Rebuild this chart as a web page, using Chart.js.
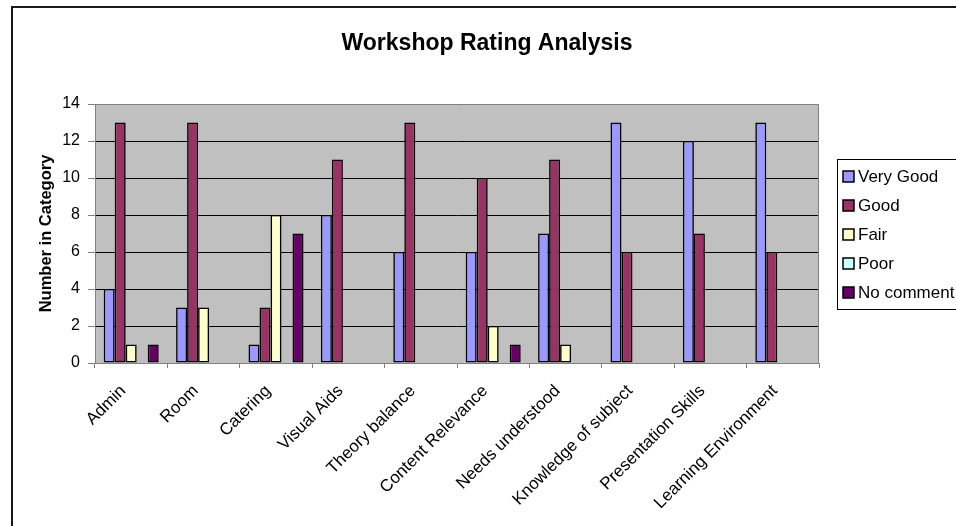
<!DOCTYPE html>
<html>
<head>
<meta charset="utf-8">
<script src="https://cdn.jsdelivr.net/npm/chart.js@4.4.1/dist/chart.umd.min.js"></script>
<style>
  html, body { margin: 0; padding: 0; background: #ffffff; }
  #wrap { width: 956px; height: 526px; position: relative; }
</style>
</head>
<body>
<div id="wrap"><canvas id="chart" width="956" height="526"></canvas></div>
<script>
// Workshop feedback counts per rating, one array per rating level
const categories = [
  'Admin', 'Room', 'Catering', 'Visual Aids', 'Theory balance',
  'Content Relevance', 'Needs understood', 'Knowledge of subject',
  'Presentation Skills', 'Learning Environment'
];
const veryGood  = [4, 3, 1, 8, 6, 6, 7, 13, 12, 13];
const good      = [13, 13, 3, 11, 13, 10, 11, 6, 7, 6];
const fair      = [1, 3, 8, 0, 0, 2, 1, 0, 0, 0];
const poor      = [0, 0, 0, 0, 0, 0, 0, 0, 0, 0];
const noComment = [1, 0, 7, 0, 0, 1, 0, 0, 0, 0];
const seriesNames = ['Very Good', 'Good', 'Fair', 'Poor', 'No comment'];
const yTicks = [0, 2, 4, 6, 8, 10, 12, 14];

const chartTitle = 'Workshop Rating Analysis';
const yTitle = 'Number in Category';

const colors = ['#9999FF', '#993366', '#FFFFCC', '#CCFFFF', '#660066'];
const FONT = "'Liberation Sans', Arial, Helvetica, sans-serif";

const seriesValues = [veryGood, good, fair, poor, noComment];
const datasets = seriesNames.map((name, i) => ({
  label: name,
  data: seriesValues[i],
  backgroundColor: colors[i],
  borderColor: '#000000',
  borderWidth: (ctx) => (ctx.raw === 0 ? 0 : 1.6),
  borderSkipped: false,
  categoryPercentage: 0.76,
  barPercentage: 1.0
}));

// Plot background, plot frame, outer frame, title and legend box
const decorations = {
  id: 'decorations',
  beforeDraw(chart) {
    const { ctx, chartArea: a } = chart;
    ctx.save();
    ctx.fillStyle = '#C0C0C0';
    ctx.fillRect(a.left, a.top, a.right - a.left, a.bottom - a.top);
    ctx.restore();
  },
  afterDraw(chart) {
    const { ctx, chartArea: a } = chart;
    ctx.save();
    // plot frame (top / right)
    ctx.strokeStyle = '#808080';
    ctx.lineWidth = 1;
    ctx.beginPath();
    ctx.moveTo(a.left, a.top + 0.5);
    ctx.lineTo(a.right - 0.5, a.top + 0.5);
    ctx.lineTo(a.right - 0.5, a.bottom);
    ctx.stroke();

    // outer chart frame
    ctx.strokeStyle = '#1a1a1a';
    ctx.lineWidth = 2;
    ctx.beginPath();
    ctx.moveTo(12, 528);
    ctx.lineTo(12, 7);
    ctx.lineTo(960, 7);
    ctx.stroke();

    // title
    ctx.fillStyle = '#000000';
    ctx.font = 'bold 23px ' + FONT;
    ctx.textAlign = 'center';
    ctx.textBaseline = 'alphabetic';
    ctx.fillText(chartTitle, 487, 50);

    // legend
    const lx = 837, ly = 159, lw = 130, lh = 150;
    ctx.fillStyle = '#ffffff';
    ctx.fillRect(lx, ly, lw, lh);
    ctx.strokeStyle = '#000000';
    ctx.lineWidth = 1;
    ctx.strokeRect(lx + 0.5, ly + 0.5, lw, lh);
    ctx.font = '17px ' + FONT;
    ctx.textAlign = 'left';
    ctx.textBaseline = 'middle';
    chart.data.datasets.forEach((ds, i) => {
      const cy = 176 + i * 29;
      ctx.fillStyle = ds.backgroundColor;
      ctx.fillRect(843, cy - 5, 11, 11);
      ctx.strokeStyle = '#000000';
      ctx.lineWidth = 1.5;
      ctx.strokeRect(843, cy - 5, 11, 11);
      ctx.fillStyle = '#000000';
      ctx.fillText(ds.label, 858, cy + 1);
    });
    ctx.restore();
  }
};

new Chart(document.getElementById('chart'), {
  type: 'bar',
  data: { labels: categories, datasets },
  plugins: [decorations],
  options: {
    responsive: false,
    animation: false,
    events: [],
    layout: { padding: { left: 33, top: 104, right: 137, bottom: 0 } },
    plugins: {
      legend: { display: false },
      title: { display: false },
      tooltip: { enabled: false }
    },
    scales: {
      x: {
        offset: true,
        grid: {
          offset: true,
          drawOnChartArea: false,
          drawTicks: true,
          tickLength: 5,
          tickColor: '#808080',
          tickWidth: 1
        },
        border: { display: true, color: '#808080', width: 1 },
        ticks: {
          color: '#000000',
          font: { family: FONT, size: 17 },
          minRotation: 45,
          maxRotation: 45,
          autoSkip: false,
          padding: 13,
          labelOffset: -8
        },
        afterFit(scale) { scale.height = 526 - 363; }
      },
      y: {
        min: 0,
        max: 14,
        afterBuildTicks(scale) { scale.ticks = yTicks.map(v => ({ value: v })); },
        grid: {
          color: (ctx) => (ctx.tick && (ctx.tick.value === 0 || ctx.tick.value === 14)) ? 'rgba(0,0,0,0)' : '#000000',
          tickColor: '#808080',
          lineWidth: 1,
          drawTicks: true,
          tickLength: 7
        },
        border: { display: true, color: '#808080', width: 1 },
        ticks: {
          color: '#000000',
          font: { family: FONT, size: 16 },
          padding: 8
        },
        title: {
          display: true,
          text: yTitle,
          color: '#000000',
          font: { family: FONT, size: 16.5, weight: 'bold' },
          padding: { top: 4, bottom: 0 }
        },
        afterFit(scale) { scale.width = 95 - 33; }
      }
    }
  }
});
</script>
</body>
</html>
